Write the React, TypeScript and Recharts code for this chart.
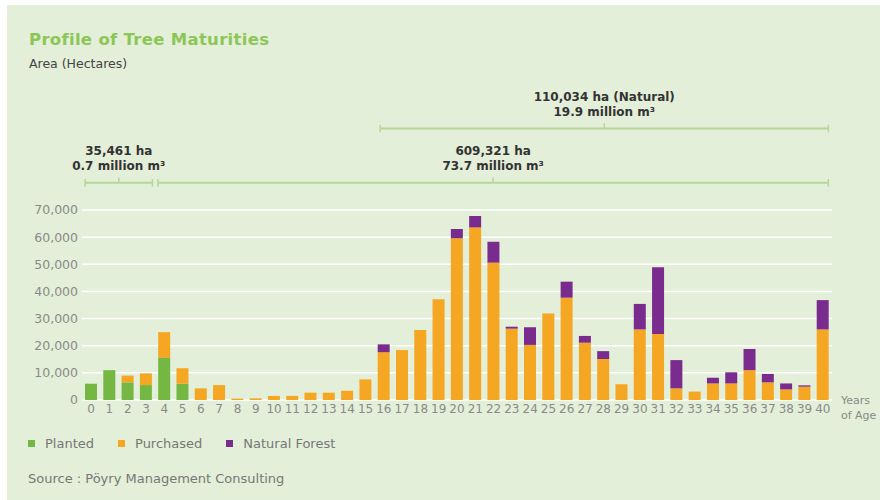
import React from 'react';
import { BarChart, Bar, XAxis, YAxis, CartesianGrid, ReferenceLine } from 'recharts';

const ages = [0, 1, 2, 3, 4, 5, 6, 7, 8, 9, 10, 11, 12, 13, 14, 15, 16, 17, 18, 19, 20, 21, 22, 23, 24, 25, 26, 27, 28, 29, 30, 31, 32, 33, 34, 35, 36, 37, 38, 39, 40];
const planted = [6000, 11000, 6500, 5500, 15500, 6000, 0, 0, 0, 0, 0, 0, 0, 0, 0, 0, 0, 0, 0, 0, 0, 0, 0, 0, 0, 0, 0, 0, 0, 0, 0, 0, 0, 0, 0, 0, 0, 0, 0, 0, 0];
const purchased = [0, 0, 2500, 4300, 9500, 5700, 4300, 5500, 500, 600, 1500, 1500, 2700, 2700, 3400, 7600, 17600, 18400, 25800, 37100, 59600, 63600, 50600, 26300, 20300, 31900, 37700, 21100, 15100, 5800, 26000, 24300, 4300, 3100, 6100, 6100, 11000, 6500, 3900, 4900, 26000];
const natural = [0, 0, 0, 0, 0, 0, 0, 0, 0, 0, 0, 0, 0, 0, 0, 0, 2900, 0, 0, 0, 3400, 4200, 7700, 700, 6500, 0, 5900, 2500, 2900, 0, 9400, 24600, 10400, 0, 2100, 4100, 7800, 3100, 2200, 500, 10800];
const yTicks = [0, 10000, 20000, 30000, 40000, 50000, 60000, 70000];

const series = [
  { key: 'planted', name: 'Planted', color: '#74b843' },
  { key: 'purchased', name: 'Purchased', color: '#f5a623' },
  { key: 'natural', name: 'Natural Forest', color: '#7a2b8e' },
];

// brackets above the bars: age span, height level (in hectares), two text lines
const brackets = [
  { from: -0.33, to: 3.35, level: 80000, lines: ['35,461 ha', '0.7 million m³'] },
  { from: 3.65, to: 40.3, level: 80000, lines: ['609,321 ha', '73.7 million m³'] },
  { from: 15.8, to: 40.3, level: 100000, lines: ['110,034 ha (Natural)', '19.9 million m³'] },
];

const data = ages.map((age, i) => ({
  age,
  planted: planted[i],
  purchased: purchased[i],
  natural: natural[i],
}));

const FONT = 'DejaVu Sans';
const BRACKET = '#b6d69a';

const BracketLabel = (props: any) => {
  const vb = props.viewBox || {};
  const cx = vb.x + vb.width / 2;
  const y = vb.y;
  const lines: string[] = props.lines;
  return (
    <g>
      <text x={cx} y={y - 28} textAnchor="middle" fontFamily={FONT} fontWeight="bold" fontSize={12} fill="#333">
        {lines[0]}
      </text>
      <text x={cx} y={y - 13} textAnchor="middle" fontFamily={FONT} fontWeight="bold" fontSize={12} fill="#333">
        {lines[1]}
      </text>
    </g>
  );
};

const fmt = (v: number) => (v === 0 ? '0' : v.toLocaleString('en-US'));

export default function App() {
  return (
    <div style={{ position: 'absolute', left: 0, top: 0, width: 880, height: 500, overflow: 'hidden', background: '#fff' }}>
      <div style={{ position: 'absolute', left: 7, top: 5, width: 873, height: 495, background: '#e3efd8' }} />
      <div style={{ position: 'absolute', left: 29, top: 30, fontFamily: FONT, fontWeight: 'bold', fontSize: 16.5, color: '#8cc657', letterSpacing: 0.3 }}>
        Profile of Tree Maturities
      </div>
      <div style={{ position: 'absolute', left: 29, top: 56, fontFamily: FONT, fontSize: 12.5, color: '#444' }}>
        Area (Hectares)
      </div>
      <div style={{ position: 'absolute', left: 0, top: 0 }}>
        <BarChart width={880} height={500} data={data} margin={{ top: 210, right: 48, bottom: 80, left: 22 }}>
          <CartesianGrid vertical={false} stroke="#ffffff" strokeWidth={1.5} />
          <XAxis
            dataKey="age"
            type="number"
            domain={[-0.5, 40.5]}
            ticks={ages}
            interval={0}
            axisLine={false}
            tickLine={false}
            tickSize={0}
            tickMargin={4}
            height={20}
            tick={{ fill: '#8a8a8a', fontSize: 12, fontFamily: FONT }}
          />
          <YAxis
            domain={[0, 70000]}
            ticks={yTicks}
            tickFormatter={fmt}
            axisLine={false}
            tickLine={false}
            tickSize={0}
            tickMargin={4}
            width={60}
            tick={{ fill: '#8a8a8a', fontSize: 12.5, fontFamily: FONT }}
          />
          {series.map((s) => (
            <Bar key={s.key} dataKey={s.key} name={s.name} stackId="a" fill={s.color} barSize={12} isAnimationActive={false} />
          ))}
          {brackets.map((b, i) => (
            <ReferenceLine
              key={`b${i}`}
              segment={[{ x: b.from, y: b.level }, { x: b.to, y: b.level }]}
              stroke={BRACKET}
              strokeWidth={2}
              ifOverflow="visible"
              label={<BracketLabel lines={b.lines} />}
            />
          ))}
          {brackets.map((b, i) => (
            <ReferenceLine
              key={`l${i}`}
              segment={[{ x: b.from, y: b.level - 1400 }, { x: b.from, y: b.level + 1400 }]}
              stroke={BRACKET}
              strokeWidth={1.5}
              ifOverflow="visible"
            />
          ))}
          {brackets.map((b, i) => (
            <ReferenceLine
              key={`r${i}`}
              segment={[{ x: b.to, y: b.level - 1400 }, { x: b.to, y: b.level + 1400 }]}
              stroke={BRACKET}
              strokeWidth={1.5}
              ifOverflow="visible"
            />
          ))}
          {brackets.map((b, i) => (
            <ReferenceLine
              key={`m${i}`}
              segment={[{ x: (b.from + b.to) / 2, y: b.level }, { x: (b.from + b.to) / 2, y: b.level + 2000 }]}
              stroke={BRACKET}
              strokeWidth={1.5}
              ifOverflow="visible"
            />
          ))}
        </BarChart>
      </div>
      <div style={{ position: 'absolute', left: 841, top: 393, fontFamily: FONT, fontSize: 11, color: '#8a8a8a', lineHeight: '15px', whiteSpace: 'nowrap' }}>
        Years
        <br />
        of Age
      </div>
      <div style={{ position: 'absolute', left: 28, top: 436, display: 'flex', fontFamily: FONT, fontSize: 13, color: '#777' }}>
        {series.map((s) => (
          <div key={s.key} style={{ display: 'flex', alignItems: 'center', marginRight: 24 }}>
            <span style={{ display: 'inline-block', width: 7, height: 7, background: s.color, marginRight: 10 }} />
            {s.name}
          </div>
        ))}
      </div>
      <div style={{ position: 'absolute', left: 28, top: 471, fontFamily: FONT, fontSize: 13, color: '#777' }}>
        Source : Pöyry Management Consulting
      </div>
    </div>
  );
}
